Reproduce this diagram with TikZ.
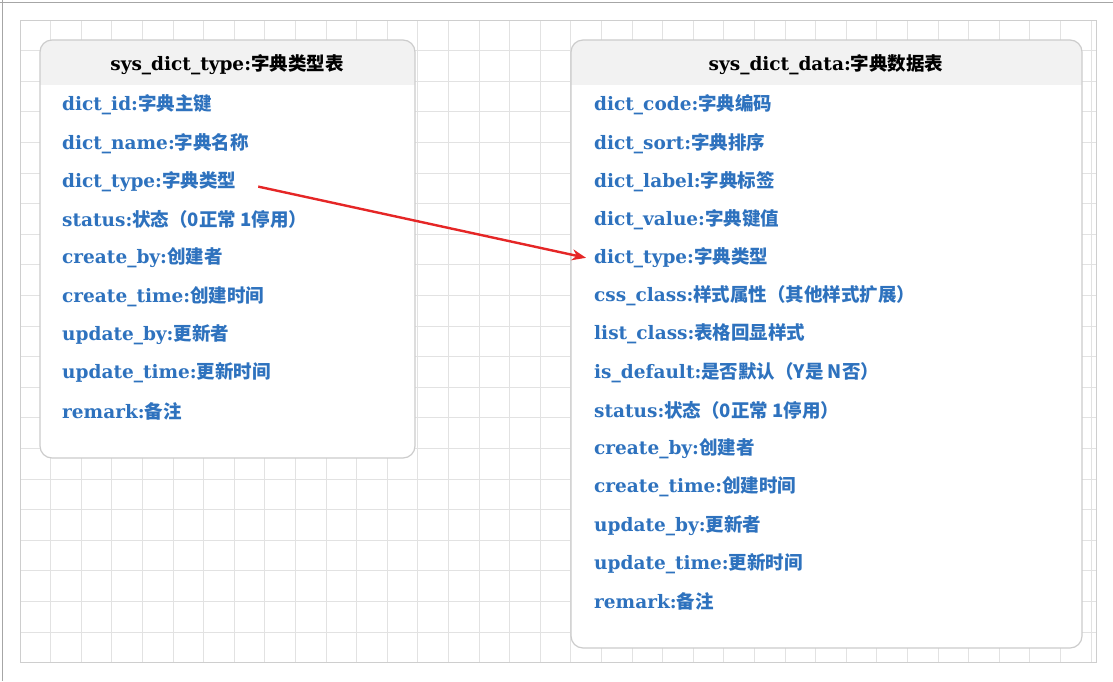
\documentclass[tikz,border=0pt]{standalone}
\usepackage{fontspec}
\usetikzlibrary{positioning, arrows.meta}
\setmainfont{DejaVu Serif}
\newfontfamily\cjk{Noto Sans CJK SC}
\definecolor{fieldblue}{HTML}{2E72BE}
\definecolor{gridgray}{HTML}{E2E2E2}
\definecolor{boxgray}{HTML}{CCCCCC}
\definecolor{headgray}{HTML}{F2F2F2}
\definecolor{linkred}{HTML}{E52626}
\newcommand{\fld}[2]{\bfseries #1{\cjk\bfseries #2}}
\tikzset{
  tablebox/.style={draw=boxgray, line width=1.2pt, rounded corners=12pt},
  fieldtext/.style={anchor=west, inner sep=0pt, text=fieldblue, font=\fontsize{18.5}{21}\selectfont},
  titletext/.style={inner sep=0pt, font=\fontsize{18.5}{21}\selectfont}
}
\begin{document}
\begin{tikzpicture}[x=1pt, y=-1pt]
\useasboundingbox (0,0) rectangle (1113,681);
\fill[white] (0,0) rectangle (1113,681);
\draw[gray!70, line width=1pt] (0,2) -- (1113,2);
\draw[gray!70, line width=1pt] (2,0) -- (2,681);
% grid
\foreach \i in {0,...,35} \draw[gridgray, line width=1pt] (20+30.6*\i,20) -- (20+30.6*\i,662);
\foreach \j in {0,...,21} \draw[gridgray, line width=1pt] (20,20+30.6*\j) -- (1096,20+30.6*\j);
\draw[gridgray!80!gray, line width=1pt] (20,20) rectangle (1096,662);

% left table
\begin{scope}
\clip[rounded corners=12pt] (40,40) rectangle (415,458);
\fill[white] (40,40) rectangle (415,458);
\fill[headgray] (40,40) rectangle (415,85);
\end{scope}
\draw[tablebox] (40,40) rectangle (415,458);
\node[titletext] (ltitle) at (227,65) {\fld{sys\_dict\_type:}{字典类型表}};
\foreach \n/\a/\b [count=\k from 0] in {lid/dict\_id:/字典主键, lname/dict\_name:/字典名称, ltype/dict\_type:/字典类型,
  lstatus/status:/状态（0正常 1停用）, lcby/create\_by:/创建者, lctime/create\_time:/创建时间,
  luby/update\_by:/更新者, lutime/update\_time:/更新时间, lremark/remark:/备注}
  \node[fieldtext] (\n) at (62,105+38.3*\k) {\fld{\a}{\b}};

% right table
\begin{scope}
\clip[rounded corners=12pt] (571,40) rectangle (1082,648);
\fill[white] (571,40) rectangle (1082,648);
\fill[headgray] (571,40) rectangle (1082,85);
\end{scope}
\draw[tablebox] (571,40) rectangle (1082,648);
\node[titletext] (rtitle) at (826,65) {\fld{sys\_dict\_data:}{字典数据表}};
\foreach \n/\a/\b [count=\k from 0] in {rcode/dict\_code:/字典编码, rsort/dict\_sort:/字典排序, rlabel/dict\_label:/字典标签,
  rvalue/dict\_value:/字典键值, rtype/dict\_type:/字典类型, rcss/css\_class:/样式属性（其他样式扩展）,
  rlist/list\_class:/表格回显样式, rdef/is\_default:/是否默认（Y是 N否）, rstatus/status:/状态（0正常 1停用）,
  rcby/create\_by:/创建者, rctime/create\_time:/创建时间, ruby/update\_by:/更新者,
  rutime/update\_time:/更新时间, rremark/remark:/备注}
  \node[fieldtext] (\n) at (594,105+38.2*\k) {\fld{\a}{\b}};

% relation
\draw[linkred, line width=2.4pt, -{Stealth[length=14pt, width=11pt]}]
  ([xshift=22pt, yshift=-5pt]ltype.east) -- ([xshift=-8pt]rtype.west);
\end{tikzpicture}
\end{document}
